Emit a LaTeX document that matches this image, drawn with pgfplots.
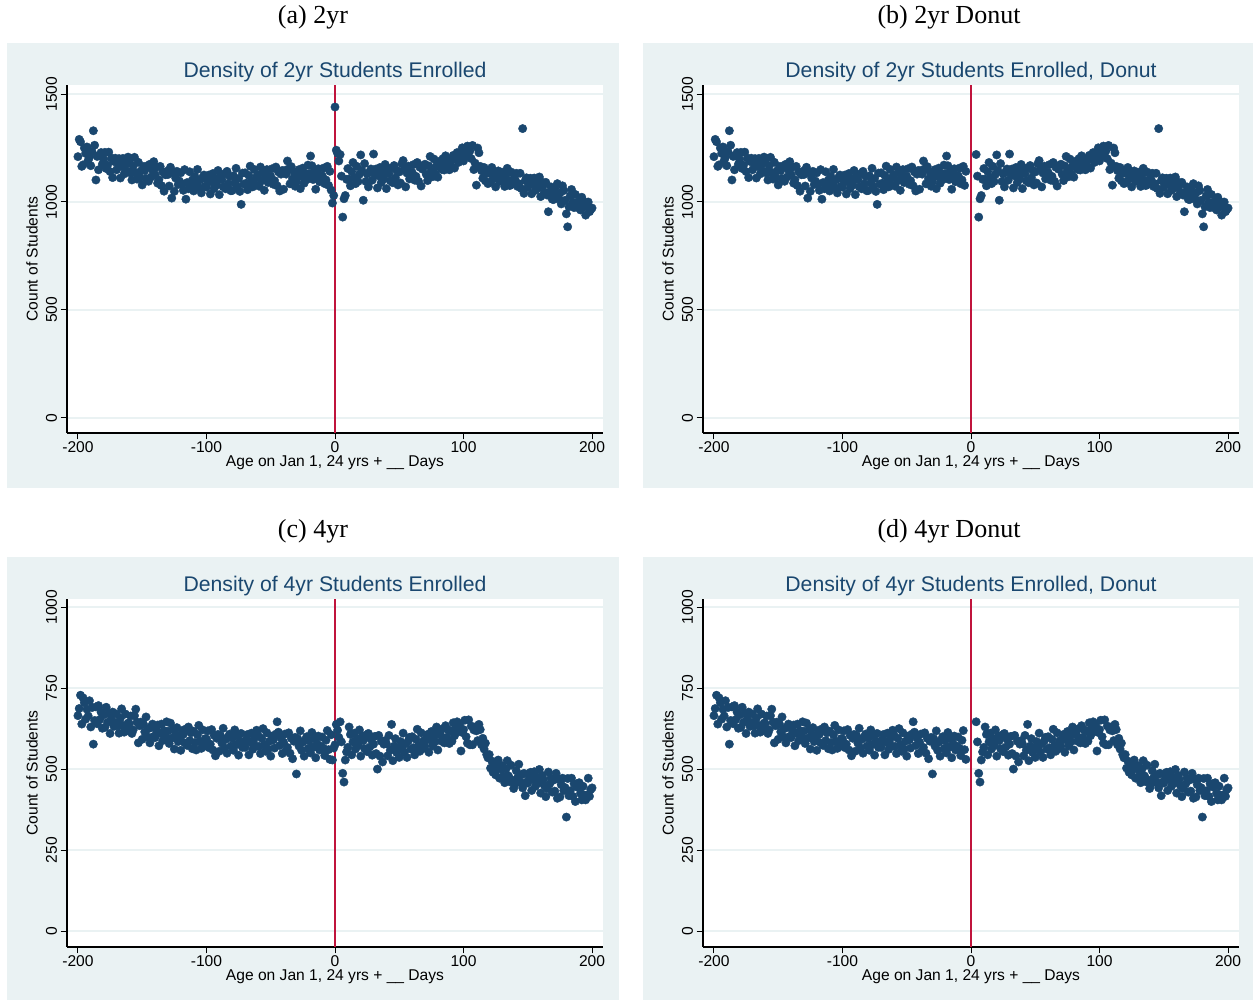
\documentclass[border=0pt]{standalone}
\usepackage{fontspec}
\setsansfont{Liberation Sans}
\newfontfamily\subfont{Liberation Serif}
\usepackage{pgfplots}
\usepackage{pgfplotstable}
\pgfplotsset{compat=1.18}
\definecolor{bgc}{RGB}{234,242,243}
\definecolor{gridc}{RGB}{234,242,243}
\definecolor{navy}{RGB}{26,71,111}
\definecolor{linec}{RGB}{192,20,60}

\pgfplotstableread{
d two four
-200 1210 665
-199 1290 687
-198 1279 728
-197 1165 639
-196 1172 720
-195 1250 705
-194 1225 654
-193 1255 685
-192 1193 664
-191 1208 711
-190 1168 630
-189 1233 690
-188 1330 577
-187 1263 650
-186 1102 692
-185 1211 640
-184 1149 696
-183 1217 653
-182 1229 676
-181 1175 626
-180 1197 667
-179 1230 629
-178 1155 691
-177 1170 644
-176 1231 671
-175 1141 610
-174 1203 654
-173 1113 676
-172 1188 632
-171 1203 643
-170 1149 670
-169 1179 634
-168 1201 611
-167 1111 657
-166 1165 686
-165 1202 635
-164 1130 614
-163 1173 670
-162 1143 619
-161 1208 642
-160 1185 640
-159 1134 664
-158 1102 610
-157 1166 621
-156 1207 665
-155 1135 685
-154 1106 645
-153 1184 581
-152 1113 634
-151 1144 645
-150 1079 592
-149 1164 639
-148 1146 615
-147 1109 661
-146 1168 600
-145 1096 625
-144 1175 581
-143 1116 630
-142 1148 639
-141 1187 601
-140 1127 597
-139 1161 619
-138 1087 636
-137 1103 572
-136 1165 611
-135 1076 639
-134 1139 588
-133 1050 619
-132 1126 599
-131 1142 646
-130 1127 617
-129 1074 579
-128 1161 642
-127 1018 595
-126 1134 622
-125 1049 562
-124 1111 606
-123 1142 628
-122 1081 585
-121 1097 596
-120 1135 558
-119 1085 619
-118 1054 607
-117 1150 581
-116 1013 624
-115 1090 573
-114 1061 630
-113 1140 588
-112 1069 612
-111 1102 563
-110 1051 617
-109 1118 582
-108 1085 559
-107 1151 606
-106 1067 635
-105 1102 585
-104 1042 564
-103 1112 621
-102 1125 570
-101 1073 594
-100 1069 593
-99 1101 618
-98 1125 566
-97 1037 577
-96 1093 622
-95 1132 559
-94 1062 604
-93 1107 541
-92 1079 595
-91 1146 607
-90 1034 555
-89 1121 603
-88 1105 580
-87 1070 626
-86 1131 566
-85 1061 592
-84 1142 549
-83 1085 599
-82 1119 608
-81 1052 571
-80 1053 595
-79 1121 558
-78 1089 621
-77 1156 575
-76 1072 603
-75 1109 543
-74 1049 587
-73 989 610
-72 1134 567
-71 1083 579
-70 1135 567
-69 1087 590
-68 1057 607
-67 1123 544
-66 1166 583
-65 1097 611
-64 1070 561
-63 1151 592
-62 1081 572
-61 1115 620
-60 1125 605
-59 1073 570
-58 1162 548
-57 1098 595
-56 1138 625
-55 1054 575
-54 1117 555
-53 1150 612
-52 1090 562
-51 1108 586
-50 1119 540
-49 1154 602
-48 1082 590
-47 1099 565
-46 1162 608
-45 1075 646
-44 1139 614
-43 1051 573
-42 1129 596
-41 1146 548
-40 1059 583
-39 1146 608
-38 1129 556
-37 1190 567
-36 1154 612
-35 1084 549
-34 1164 595
-33 1107 532
-32 1140 586
-31 1073 598
-30 1094 485
-29 1126 594
-28 1150 571
-27 1062 618
-26 1118 558
-25 1157 583
-24 1087 540
-23 1132 590
-22 1104 600
-21 1171 563
-20 1132 587
-19 1213 550
-18 1168 613
-17 1104 567
-16 1143 595
-15 1059 535
-14 1122 579
-13 1154 602
-12 1094 559
-11 1111 571
-10 1122 599
-9 1157 564
-8 1085 542
-7 1102 589
-6 1165 619
-5 1077 560
-4 1142 530
-3 1055 606
-2 995 528
-1 1030 565
0 1440 575
1 1240 638
2 1225 620
3 1190 598
4 1220 646
5 1120 584
6 930 487
7 1015 460
8 1030 528
9 1105 553
10 1155 567
11 1106 630
12 1075 607
13 1141 544
14 1183 584
15 1113 611
16 1085 562
17 1165 593
18 1095 573
19 1128 621
20 1218 540
21 1145 601
22 1008 588
23 1178 563
24 1095 605
25 1130 554
26 1070 610
27 1139 568
28 1153 592
29 1101 543
30 1222 577
31 1129 601
32 1153 548
33 1065 500
34 1121 604
35 1160 540
36 1090 586
37 1135 522
38 1107 577
39 1174 588
40 1062 578
41 1149 541
42 1132 604
43 1098 558
44 1158 638
45 1089 526
46 1169 571
47 1112 594
48 1146 551
49 1079 563
50 1139 536
51 1088 585
52 1177 563
53 1192 611
54 1153 552
55 1070 578
56 1134 536
57 1166 587
58 1107 598
59 1125 562
60 1137 600
61 1173 566
62 1101 544
63 1119 592
64 1183 623
65 1096 574
66 1161 555
67 1074 612
68 1152 563
69 1170 588
70 1175 570
71 1128 591
72 1099 607
73 1167 552
74 1211 590
75 1143 616
76 1117 572
77 1199 602
78 1131 585
79 1166 630
80 1115 559
81 1188 616
82 1176 606
83 1151 586
84 1201 625
85 1148 581
86 1214 634
87 1171 598
88 1200 621
89 1149 579
90 1170 618
91 1196 586
92 1216 643
93 1157 603
94 1199 629
95 1229 646
96 1183 617
97 1218 639
98 1201 556
99 1251 613
100 1190 622
101 1233 651
102 1217 600
103 1259 580
104 1212 652
105 1237 575
106 1201 633
107 1262 575
108 1150 621
109 1180 630
110 1078 618
111 1250 588
112 1228 638
113 1165 622
114 1145 575
115 1110 595
116 1160 562
117 1098 580
118 1135 545
119 1085 535
120 1134 545
121 1091 503
122 1160 525
123 1108 490
124 1138 514
125 1070 482
126 1120 505
127 1144 528
128 1095 472
129 1108 500
130 1138 511
131 1098 478
132 1072 458
133 1124 500
134 1156 526
135 1099 479
136 1076 461
137 1139 512
138 1082 466
139 1107 440
140 1106 453
141 1133 495
142 1072 473
143 1085 515
144 1133 460
145 1062 482
146 1340 442
147 1040 487
148 1099 418
149 1112 460
150 1068 457
151 1092 476
152 1110 490
153 1038 434
154 1081 468
155 1111 492
156 1054 447
157 1088 475
158 1064 457
159 1116 499
160 1025 426
161 1092 481
162 1076 469
163 1045 448
164 1091 415
165 1032 440
166 955 491
167 1045 454
168 1070 472
169 1013 429
170 1011 466
171 1062 432
172 1034 487
173 1085 410
174 1015 469
175 1041 414
176 991 452
177 1075 472
178 1053 434
179 1008 443
180 945 352
181 885 471
182 978 418
183 1028 433
184 1058 472
185 999 416
186 974 455
187 1035 400
188 976 445
189 999 456
190 1002 458
191 963 425
192 1022 405
193 975 447
194 1000 420
195 939 405
196 980 420
197 1000 472
198 955 416
199 965 437
200 972 442
}\datatab

\pgfplotsset{
  stata/.style={
    scale only axis, width=268pt, height=174pt,
    xmin=-208.5, xmax=208.5,
    axis x line*=bottom, axis y line*=left,
    axis line style={black, line width=0.6pt},
    xtick={-200,-100,0,100,200},
    xticklabels={-200,-100,0,100,200},
    tick style={black, line width=0.5pt},
    major tick length=3.2pt,
    tick align=outside,
    ymajorgrids, grid style={color=gridc, line width=0.7pt},
    tick label style={font=\sffamily\fontsize{7.8}{9}\selectfont},
    yticklabel style={rotate=90, anchor=south, inner sep=1.6pt},
    xticklabel style={inner sep=0.8pt},
    xlabel={Age on Jan 1, 24 yrs + \_\_ Days},
    ylabel={Count of Students},
    every axis x label/.style={at={(axis description cs:0.5,0)}, anchor=center, yshift=-14.6pt, inner sep=0.3pt},
    every axis y label/.style={at={(axis description cs:0,0.5)}, xshift=-17.5pt, rotate=90, anchor=center},
    label style={font=\sffamily\fontsize{7.8}{9}\selectfont},
    every axis title/.style={at={(axis description cs:0.5,1)}, anchor=center, yshift=6.6pt, font=\sffamily\fontsize{10.6}{12}\selectfont, text=navy},
    axis background/.style={fill=white},
    clip=false,
  },
  dots/.style={only marks, mark=*, mark size=2.1pt, mark options={fill=navy, draw=navy, line width=0.2pt}},
  two/.style={ymin=-70, ymax=1542, ytick={0,500,1000,1500}, yticklabels={0,500,1000,1500}},
  four/.style={ymin=-49, ymax=1025, ytick={0,250,500,750,1000}, yticklabels={0,250,500,750,1000}},
}

\begin{document}
\begin{tikzpicture}
\useasboundingbox (0,0) rectangle (626.5pt,500pt);
% backgrounds
\fill[bgc] (3.5pt,256pt) rectangle (309.5pt,478.5pt);
\fill[bgc] (321.5pt,256pt) rectangle (628pt,478.5pt);
\fill[bgc] (3.5pt,-2pt) rectangle (309.5pt,221.5pt);
\fill[bgc] (321.5pt,-2pt) rectangle (628pt,221.5pt);
% subtitles
\node[font=\subfont\fontsize{13}{15}\selectfont] at (156.5pt,491.5pt) {(a) 2yr};
\node[font=\subfont\fontsize{13}{15}\selectfont] at (474.5pt,491.5pt) {(b) 2yr Donut};
\node[font=\subfont\fontsize{13}{15}\selectfont] at (156.5pt,234.5pt) {(c) 4yr};
\node[font=\subfont\fontsize{13}{15}\selectfont] at (474.5pt,234.5pt) {(d) 4yr Donut};

% (a)
\begin{axis}[stata, two, at={(33.5pt,283.5pt)}, anchor=south west,
  title={Density of 2yr Students Enrolled}]
\addplot[linec, line width=0.7pt, no marks] coordinates {(0,-70) (0,1542)};
\addplot[dots] table[x=d, y=two] {\datatab};
\end{axis}

% (b)
\begin{axis}[stata, two, at={(351.5pt,283.5pt)}, anchor=south west,
  title={Density of 2yr Students Enrolled, Donut}]
\addplot[linec, line width=0.7pt, no marks] coordinates {(0,-70) (0,1542)};
\addplot[dots, restrict x to domain=-200:-3.5] table[x=d, y=two] {\datatab};
\addplot[dots, restrict x to domain=3.5:200] table[x=d, y=two] {\datatab};
\end{axis}

% (c)
\begin{axis}[stata, four, at={(33.5pt,26.5pt)}, anchor=south west,
  title={Density of 4yr Students Enrolled}]
\addplot[linec, line width=0.7pt, no marks] coordinates {(0,-49) (0,1025)};
\addplot[dots] table[x=d, y=four] {\datatab};
\end{axis}

% (d)
\begin{axis}[stata, four, at={(351.5pt,26.5pt)}, anchor=south west,
  title={Density of 4yr Students Enrolled, Donut}]
\addplot[linec, line width=0.7pt, no marks] coordinates {(0,-49) (0,1025)};
\addplot[dots, restrict x to domain=-200:-3.5] table[x=d, y=four] {\datatab};
\addplot[dots, restrict x to domain=3.5:200] table[x=d, y=four] {\datatab};
\end{axis}
\end{tikzpicture}
\end{document}
